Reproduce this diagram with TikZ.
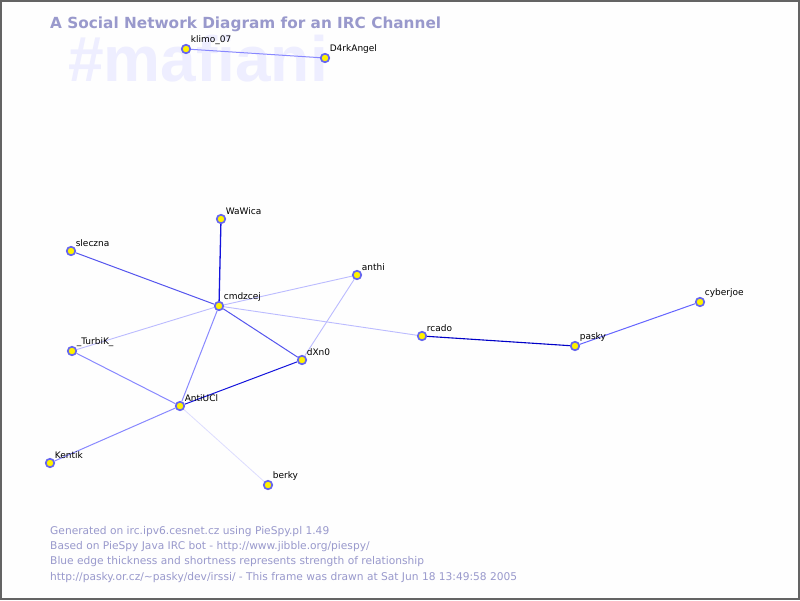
\documentclass[tikz,border=0pt]{standalone}
\usepackage{fontspec}
\setmainfont{DejaVu Sans}
\newfontfamily\markfont{Liberation Sans}
\usetikzlibrary{backgrounds}

\definecolor{titleblue}{HTML}{9999CC}
\definecolor{markblue}{HTML}{EEEEFF}
\definecolor{noderim}{HTML}{6666EE}

\tikzset{
    user/.style={circle, draw=noderim, fill=yellow, line width=1.7pt,
        minimum size=8.5pt, inner sep=0pt,
        label={[anchor=south west, inner sep=0.5pt, xshift=0.5pt, font=\fontsize{9}{10}\selectfont]north east:#1}},
    faint/.style={draw={rgb,255:red,221;green,221;blue,255}, line width=0.8pt},
    weak/.style={draw={rgb,255:red,187;green,187;blue,255}, line width=0.9pt},
    fair/.style={draw={rgb,255:red,136;green,136;blue,255}, line width=1pt},
    good/.style={draw={rgb,255:red,85;green,85;blue,238}, line width=1pt},
    strong/.style={draw={rgb,255:red,20;green,20;blue,220}, line width=1.3pt},
}

\begin{document}
\begin{tikzpicture}[x=1pt, y=-1pt]
        \useasboundingbox (0,0) rectangle (800,600);

        \node[user=klimo\_07] (klimo) at (186,49) {};
        \node[user=D4rkAngel] (angel) at (325,58) {};
        \node[user=WaWica] (wawica) at (221,219) {};
        \node[user=sleczna] (sleczna) at (71,251) {};
        \node[user=anthi] (anthi) at (357,275) {};
        \node[user=cmdzcej] (cmdzcej) at (219,306) {};
        \node[user=\_TurbiK\_] (turbik) at (72,351) {};
        \node[user=dXn0] (dxn) at (302,360) {};
        \node[user=rcado] (rcado) at (422,336) {};
        \node[user=pasky] (pasky) at (575,346) {};
        \node[user=cyberjoe] (cyberjoe) at (700,302) {};
        \node[user=AntiUCl] (antiucl) at (180,406) {};
        \node[user=Kentik] (kentik) at (50,463) {};
        \node[user=berky] (berky) at (268,485) {};

        \begin{scope}[on background layer]
            \draw[fill={rgb,255:red,254;green,254;blue,254}, draw={rgb,255:red,100;green,100;blue,100}, line width=2pt]
                (1,1) rectangle (799,599);
            \node[anchor=base west, inner sep=0pt, text=markblue, font=\markfont\bfseries\fontsize{64}{70}\selectfont]
                (mark) at (68,81) {\#mafiani};
            \node[anchor=base west, inner sep=0pt, text=titleblue, font=\bfseries\fontsize{15.3}{18}\selectfont]
                (title) at (50,28) {A Social Network Diagram for an IRC Channel};

            \draw[fair] (klimo) -- (angel);
            \draw[strong] (wawica) -- (cmdzcej);
            \draw[good] (sleczna) -- (cmdzcej);
            \draw[weak] (anthi) -- (cmdzcej);
            \draw[weak] (anthi) -- (dxn);
            \draw[weak] (turbik) -- (cmdzcej);
            \draw[weak] (cmdzcej) -- (rcado);
            \draw[good] (cmdzcej) -- (dxn);
            \draw[fair] (cmdzcej) -- (antiucl);
            \draw[fair] (turbik) -- (antiucl);
            \draw[strong, line width=1pt] (dxn) -- (antiucl);
            \draw[fair] (kentik) -- (antiucl);
            \draw[faint] (antiucl) -- (berky);
            \draw[strong, line width=1.1pt, draw={rgb,255:red,0;green,0;blue,200}] (rcado) -- (pasky);
            \draw[good, draw={rgb,255:red,100;green,100;blue,255}] (pasky) -- (cyberjoe);
        \end{scope}

        \node[anchor=north west, inner sep=0pt, align=left, text=titleblue,
            font=\fontsize{10.65}{15.3}\selectfont] (footer) at (50,526)
            {Generated on irc.ipv6.cesnet.cz using PieSpy.pl 1.49\\
             Based on PieSpy Java IRC bot - http://www.jibble.org/piespy/\\
             Blue edge thickness and shortness represents strength of relationship\\
             http://pasky.or.cz/\textasciitilde pasky/dev/irssi/ - This frame was drawn at Sat Jun 18 13:49:58 2005};
\end{tikzpicture}
\end{document}
